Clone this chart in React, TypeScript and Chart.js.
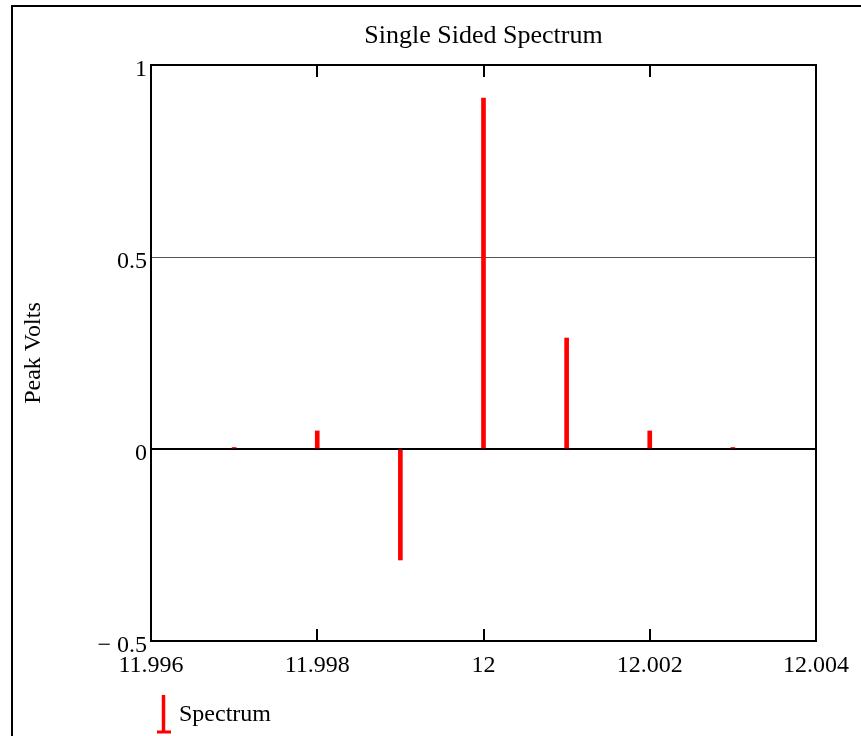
import React, { useEffect, useRef } from 'react';
import { Chart, registerables } from 'chart.js';

Chart.register(...registerables);

const frequencies = [11.997, 11.998, 11.999, 12.0, 12.001, 12.002, 12.003];
const peakVolts = [0.004, 0.047, -0.289, 0.914, 0.289, 0.047, 0.004];
const xTickValues = [11.996, 11.998, 12.0, 12.002, 12.004];
const xTickLabels = ['11.996', '11.998', '12', '12.002', '12.004'];
const yTickValues = [-0.5, 0, 0.5, 1];
const yTickLabels = ['\u2212 0.5', '0', '0.5', '1'];

const SERIF = "'Liberation Serif', 'Times New Roman', Times, serif";

const decorPlugin = {
  id: 'decor',
  beforeDraw(chart: any) {
    const { ctx, width, height } = chart;
    ctx.save();
    ctx.fillStyle = '#fff';
    ctx.fillRect(0, 0, width, height);
    ctx.strokeStyle = '#000';
    ctx.lineWidth = 2;
    ctx.beginPath();
    ctx.moveTo(12, height + 5);
    ctx.lineTo(12, 6);
    ctx.lineTo(width + 5, 6);
    ctx.stroke();
    ctx.restore();
  },
  afterDraw(chart: any) {
    const { ctx, chartArea } = chart;
    const { left, top, right, bottom } = chartArea;
    const xs = chart.scales.x;
    ctx.save();
    ctx.strokeStyle = '#000';
    ctx.lineWidth = 2;
    ctx.strokeRect(left, top, right - left, bottom - top);
    ctx.beginPath();
    xTickValues.forEach((v) => {
      const px = Math.round(xs.getPixelForValue(v));
      ctx.moveTo(px, top);
      ctx.lineTo(px, top + 12);
      ctx.moveTo(px, bottom);
      ctx.lineTo(px, bottom - 12);
    });
    ctx.stroke();

    // legend
    const lx = 163.5;
    ctx.strokeStyle = '#ff0000';
    ctx.lineWidth = 3.5;
    ctx.beginPath();
    ctx.moveTo(lx, 695);
    ctx.lineTo(lx, 732);
    ctx.stroke();
    ctx.lineWidth = 3;
    ctx.beginPath();
    ctx.moveTo(157, 732);
    ctx.lineTo(171, 732);
    ctx.stroke();
    ctx.fillStyle = '#000';
    ctx.font = `24px ${SERIF}`;
    ctx.textBaseline = 'middle';
    ctx.textAlign = 'left';
    ctx.fillText(chart.data.datasets[0].label, 179, 715);
    ctx.restore();
  },
};

export default function App() {
  const ref = useRef<HTMLCanvasElement | null>(null);

  useEffect(() => {
    if (!ref.current) return;
    const chart = new Chart(ref.current, {
      type: 'bar',
      data: {
        datasets: [
          {
            label: 'Spectrum',
            data: frequencies.map((f, i) => ({ x: f, y: peakVolts[i] })),
            backgroundColor: '#ff0000',
            borderWidth: 0,
            barThickness: 4,
          } as any,
        ],
      },
      options: {
        animation: false,
        responsive: false,
        layout: { padding: { left: 19, right: 45, top: 0, bottom: 0 } },
        plugins: {
          legend: { display: false },
          tooltip: { enabled: false },
          title: {
            display: true,
            text: 'Single Sided Spectrum',
            color: '#000',
            fullSize: false,
            font: { family: SERIF, size: 26, weight: 'normal', lineHeight: 1.2 },
            padding: { top: 21, bottom: 12.8 },
          },
        },
        scales: {
          x: {
            type: 'linear',
            min: 11.996,
            max: 12.004,
            offset: false,
            afterBuildTicks: (scale: any) => {
              scale.ticks = xTickValues.map((v) => ({ value: v }));
            },
            afterFit: (scale: any) => {
              scale.height = 95;
            },
            grid: { display: false, drawTicks: false, offset: false },
            border: { display: false },
            ticks: {
              color: '#000',
              font: { family: SERIF, size: 24 },
              padding: 10,
              maxRotation: 0,
              autoSkip: false,
              callback: (_v: any, i: number) => xTickLabels[i],
            },
          },
          y: {
            type: 'linear',
            min: -0.5,
            max: 1,
            afterBuildTicks: (scale: any) => {
              scale.ticks = yTickValues.map((v) => ({ value: v }));
            },
            afterFit: (scale: any) => {
              scale.width = 132;
            },
            title: {
              display: true,
              text: 'Peak Volts',
              color: '#000',
              font: { family: SERIF, size: 24, lineHeight: 1.2 },
              padding: 0,
            },
            grid: {
              drawTicks: false,
              color: (c: any) =>
                c.tick && c.tick.value === 0 ? '#000' : c.tick && c.tick.value === 0.5 ? '#555' : 'rgba(0,0,0,0)',
              lineWidth: (c: any) =>
                c.tick && c.tick.value === 0 ? 2 : c.tick && c.tick.value === 0.5 ? 1 : 0,
            },
            border: { display: false },
            ticks: {
              color: '#000',
              font: { family: SERIF, size: 24 },
              padding: 4,
              labelOffset: 5,
              autoSkip: false,
              callback: (_v: any, i: number) => yTickLabels[i],
            },
          },
        },
      },
      plugins: [decorPlugin],
    });
    return () => chart.destroy();
  }, []);

  return (
    <div style={{ position: 'fixed', left: 0, top: 0, width: 861, height: 736, overflow: 'hidden', background: '#fff' }}>
      <canvas ref={ref} width={861} height={736} style={{ display: 'block' }} />
    </div>
  );
}
